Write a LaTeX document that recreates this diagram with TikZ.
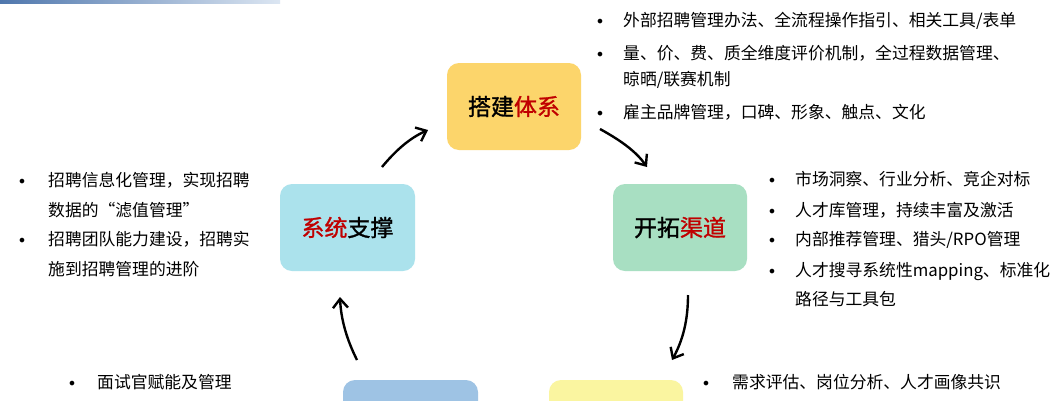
\documentclass[tikz,border=0pt]{standalone}
\usepackage{fontspec}
\setmainfont{Noto Sans CJK SC}
\newfontfamily\bulletfont{DejaVu Sans}
\newfontfamily\titlefont{Noto Sans CJK SC}[FakeBold=1.2]
\usetikzlibrary{arrows.meta}
\definecolor{boxtop}{HTML}{FCD56B}
\definecolor{boxsys}{HTML}{ABE2EC}
\definecolor{boxchan}{HTML}{A8DFC2}
\definecolor{boxbl}{HTML}{9EC3E4}
\definecolor{boxbr}{HTML}{FAF5A0}
\definecolor{hl}{HTML}{C00000}
\definecolor{barA}{HTML}{4F77AD}
\definecolor{barB}{HTML}{DCE6F2}
\tikzset{
  stagebox/.style={draw=none, rounded corners=12pt, minimum width=#1, minimum height=87pt, inner sep=0pt,
    font=\titlefont\fontsize{23}{23}\selectfont},
  stagebox/.default=134pt,
  listline/.style={anchor=west, inner sep=0pt, text height=0.88em, text depth=0.12em,
    font=\fontsize{16.8}{16.8}\selectfont},
  bulletmark/.style={anchor=center, inner sep=0pt, font=\bulletfont\fontsize{16}{16}\selectfont},
  flowarrow/.style={line width=2.4pt, -{Straight Barb[length=9pt,width=15pt,line width=2.4pt]}}
}
\begin{document}
\begin{tikzpicture}[x=1pt,y=-1pt]
\useasboundingbox (0,0) rectangle (1061,400);
\clip (0,0) rectangle (1061,400);
\fill[white] (0,0) rectangle (1061,400);
% top gradient bar
\shade[left color=barA, right color=barB] (0,0) rectangle (280,3.5);
% stage boxes
\node[stagebox, fill=boxtop] (top) at (514,106.5) {搭建\textcolor{hl}{体系}};
\node[stagebox=135pt, fill=boxsys] (sys) at (347.5,227.5) {\textcolor{hl}{系统}支撑};
\node[stagebox, fill=boxchan] (chan) at (680,227.5) {开拓\textcolor{hl}{渠道}};
\node[stagebox=135pt, fill=boxbl] (bl) at (410.5,423.5) {};
\node[stagebox, fill=boxbr] (br) at (616,423.5) {};
% arrow end points
\coordinate (a1s) at (382,167);
\coordinate (a1e) at (428,130);
\coordinate (a2s) at (600,129);
\coordinate (a2e) at (647,167);
\coordinate (a3s) at (688,295);
\coordinate (a3e) at (672,360);
\coordinate (a4s) at (357,360);
\coordinate (a4e) at (340,297);
\draw[flowarrow] (a1s) .. controls (396,150) and (410,138) .. (a1e);
\draw[flowarrow] (a2s) .. controls (618,139) and (635,150) .. (a2e);
\draw[flowarrow] (a3s) .. controls (688,320) and (683,340) .. (a3e);
\draw[flowarrow] (a4s) .. controls (347,340) and (341,320) .. (a4e);
% top list
\node[bulletmark] (tb1) at (600,23) {•};
\node[listline] (tl1) at (623,23) {外部招聘管理办法、全流程操作指引、相关工具/表单};
\node[bulletmark] (tb2) at (600,56) {•};
\node[listline] (tl2) at (623,56) {量、价、费、质全维度评价机制，全过程数据管理、};
\node[listline] (tl3) at (623,82) {晾晒/联赛机制};
\node[bulletmark] (tb3) at (600,115) {•};
\node[listline] (tl4) at (623,115) {雇主品牌管理，口碑、形象、触点、文化};
% left list
\node[bulletmark] (lb1) at (22,183) {•};
\node[listline] (ll1) at (48,183) {招聘信息化管理，实现招聘};
\node[listline] (ll2) at (48,213) {数据的“滤值管理”};
\node[bulletmark] (lb2) at (22,242) {•};
\node[listline] (ll3) at (48,242) {招聘团队能力建设，招聘实};
\node[listline] (ll4) at (48,272) {施到招聘管理的进阶};
% right list
\node[bulletmark] (rb1) at (772,182) {•};
\node[listline] (rl1) at (795,182) {市场洞察、行业分析、竞企对标};
\node[bulletmark] (rb2) at (772,213) {•};
\node[listline] (rl2) at (795,213) {人才库管理，持续丰富及激活};
\node[bulletmark] (rb3) at (772,242) {•};
\node[listline] (rl3) at (795,242) {内部推荐管理、猎头/RPO管理};
\node[bulletmark] (rb4) at (772,273) {•};
\node[listline] (rl4) at (795,273) {人才搜寻系统性mapping、标准化};
\node[listline] (rl5) at (795,302) {路径与工具包};
% bottom lists
\node[bulletmark] (bb1) at (72,385) {•};
\node[listline] (bt1) at (97,385) {面试官赋能及管理};
\node[bulletmark] (bb2) at (706,385) {•};
\node[listline] (bt2) at (732,385) {需求评估、岗位分析、人才画像共识};
\end{tikzpicture}
\end{document}
